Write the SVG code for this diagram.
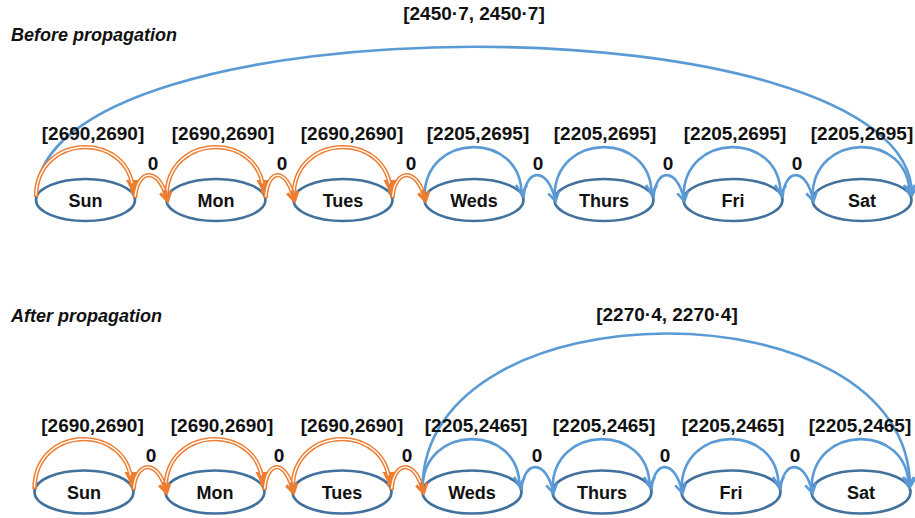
<svg xmlns="http://www.w3.org/2000/svg" width="915" height="518" viewBox="0 0 915 518">
<defs>
<style>
text{font-family:"Liberation Sans",Arial,sans-serif;font-weight:bold;fill:#111;}
.nd{fill:#fff;stroke:#41719C;stroke-width:2.6;}
.nt{font-size:18px;text-anchor:middle;}
.lb{font-size:19px;text-anchor:middle;}
.ttl{font-size:18px;font-style:italic;}
.b{fill:none;stroke:#5B9BD5;stroke-width:2.6;marker-end:url(#vb);}
.o{fill:none;stroke:#ED7D31;stroke-width:4.4;}
.oloop{marker-end:url(#to);}
.ocon{marker-end:url(#vo);}
.w1{fill:none;stroke:#fff;stroke-width:1.4;stroke-dasharray:0 1 92 20;}
.w2{fill:none;stroke:#fff;stroke-width:1.4;stroke-dasharray:0 2 80 30;}
</style>
<marker id="vb" markerUnits="userSpaceOnUse" markerWidth="16" markerHeight="16" viewBox="-13 -8 16 16" refX="0" refY="0" orient="auto" overflow="visible"><path d="M-9,-5.5 L0,0 L-9,5.5" fill="none" stroke="#5B9BD5" stroke-width="2.6"/></marker>
<marker id="vo" markerUnits="userSpaceOnUse" markerWidth="16" markerHeight="16" viewBox="-13 -8 16 16" refX="0" refY="0" orient="auto" overflow="visible"><path d="M-9,-5.5 L0,0 L-9,5.5" fill="none" stroke="#ED7D31" stroke-width="3"/></marker>
<marker id="to" markerUnits="userSpaceOnUse" markerWidth="18" markerHeight="18" viewBox="-15 -9 18 18" refX="0" refY="0" orient="auto" overflow="visible"><path d="M-14,-7 L0,0 L-14,7 Z" fill="#ED7D31"/></marker>
</defs>

<text class="ttl" x="11" y="41">Before propagation</text>
<text class="ttl" x="11" y="322">After propagation</text>

<g id="top-nodes">
<g id="t-sun"><ellipse class="nd" cx="85.5" cy="200" rx="49.5" ry="21"/><text class="nt" x="85.5" y="207">Sun</text></g>
<g id="t-mon"><ellipse class="nd" cx="216" cy="200" rx="49.5" ry="21"/><text class="nt" x="216" y="207">Mon</text></g>
<g id="t-tues"><ellipse class="nd" cx="343" cy="200" rx="49.5" ry="21"/><text class="nt" x="343" y="207">Tues</text></g>
<g id="t-weds"><ellipse class="nd" cx="474" cy="200" rx="49.5" ry="21"/><text class="nt" x="474" y="207">Weds</text></g>
<g id="t-thurs"><ellipse class="nd" cx="604" cy="200" rx="49.5" ry="21"/><text class="nt" x="604" y="207">Thurs</text></g>
<g id="t-fri"><ellipse class="nd" cx="733" cy="200" rx="49.5" ry="21"/><text class="nt" x="733" y="207">Fri</text></g>
<g id="t-sat"><ellipse class="nd" cx="862" cy="200" rx="49.5" ry="21"/><text class="nt" x="862" y="207">Sat</text></g>
</g>

<g id="bottom-nodes">
<g id="b-sun"><ellipse class="nd" cx="84" cy="492" rx="49.5" ry="21.5"/><text class="nt" x="84" y="499">Sun</text></g>
<g id="b-mon"><ellipse class="nd" cx="215" cy="492" rx="49.5" ry="21.5"/><text class="nt" x="215" y="499">Mon</text></g>
<g id="b-tues"><ellipse class="nd" cx="342" cy="492" rx="49.5" ry="21.5"/><text class="nt" x="342" y="499">Tues</text></g>
<g id="b-weds"><ellipse class="nd" cx="472" cy="492" rx="49.5" ry="21.5"/><text class="nt" x="472" y="499">Weds</text></g>
<g id="b-thurs"><ellipse class="nd" cx="602" cy="492" rx="49.5" ry="21.5"/><text class="nt" x="602" y="499">Thurs</text></g>
<g id="b-fri"><ellipse class="nd" cx="731" cy="492" rx="49.5" ry="21.5"/><text class="nt" x="731" y="499">Fri</text></g>
<g id="b-sat"><ellipse class="nd" cx="861" cy="492" rx="49.5" ry="21.5"/><text class="nt" x="861" y="499">Sat</text></g>
</g>

<g id="connectors">
<!-- top: big arc -->
<path class="b" d="M36,197 C36,-3 912,-3 912,195"/>
<!-- top orange self loops -->
<path class="o oloop" d="M36,197 C36,131 133,131 133,194"/>
<path class="w1" pathLength="100" d="M36,197 C36,131 133,131 133,194"/>
<path class="o oloop" d="M166.5,197 C166.5,131 263.5,131 263.5,194"/>
<path class="w1" pathLength="100" d="M166.5,197 C166.5,131 263.5,131 263.5,194"/>
<path class="o oloop" d="M293.5,197 C293.5,131 390.5,131 390.5,194"/>
<path class="w1" pathLength="100" d="M293.5,197 C293.5,131 390.5,131 390.5,194"/>
<!-- top blue self loops -->
<path class="b" d="M424.5,197 C424.5,131 521.5,131 521.5,194"/>
<path class="b" d="M554.5,197 C554.5,131 651.5,131 651.5,194"/>
<path class="b" d="M683.5,197 C683.5,131 780.5,131 780.5,194"/>
<path class="b" d="M812.5,197 C812.5,131 909.5,131 909.5,194"/>
<!-- top zero connectors -->
<path class="o ocon" d="M135,198 C137,168 160,166 167.5,201"/>
<path class="w2" pathLength="100" d="M135,198 C137,168 160,166 167.5,201"/>
<path class="o ocon" d="M265.5,198 C267.5,168 287,166 294.5,201"/>
<path class="w2" pathLength="100" d="M265.5,198 C267.5,168 287,166 294.5,201"/>
<path class="o ocon" d="M392.5,198 C394.5,168 418,166 425.5,201"/>
<path class="w2" pathLength="100" d="M392.5,198 C394.5,168 418,166 425.5,201"/>
<path class="b" d="M523.5,198 C525.5,168 548,166 555.5,201"/>
<path class="b" d="M653.5,198 C655.5,168 677,166 684.5,201"/>
<path class="b" d="M782.5,198 C784.5,168 806,166 813.5,201"/>

<!-- bottom: big arc -->
<path class="b" d="M422.5,489 C422.5,282 910,282 910,487"/>
<!-- bottom orange self loops -->
<path class="o oloop" d="M34.5,489 C34.5,423 131.5,423 131.5,486"/>
<path class="w1" pathLength="100" d="M34.5,489 C34.5,423 131.5,423 131.5,486"/>
<path class="o oloop" d="M165.5,489 C165.5,423 262.5,423 262.5,486"/>
<path class="w1" pathLength="100" d="M165.5,489 C165.5,423 262.5,423 262.5,486"/>
<path class="o oloop" d="M292.5,489 C292.5,423 389.5,423 389.5,486"/>
<path class="w1" pathLength="100" d="M292.5,489 C292.5,423 389.5,423 389.5,486"/>
<!-- bottom blue self loops -->
<path class="b" d="M422.5,489 C422.5,423 519.5,423 519.5,486"/>
<path class="b" d="M552.5,489 C552.5,423 649.5,423 649.5,486"/>
<path class="b" d="M681.5,489 C681.5,423 778.5,423 778.5,486"/>
<path class="b" d="M811.5,489 C811.5,423 908.5,423 908.5,486"/>
<!-- bottom zero connectors -->
<path class="o ocon" d="M133.5,490 C135.5,460 159,458 166.5,493"/>
<path class="w2" pathLength="100" d="M133.5,490 C135.5,460 159,458 166.5,493"/>
<path class="o ocon" d="M264.5,490 C266.5,460 286,458 293.5,493"/>
<path class="w2" pathLength="100" d="M264.5,490 C266.5,460 286,458 293.5,493"/>
<path class="o ocon" d="M391.5,490 C393.5,460 416,458 423.5,493"/>
<path class="w2" pathLength="100" d="M391.5,490 C393.5,460 416,458 423.5,493"/>
<path class="b" d="M521.5,490 C523.5,460 546,458 553.5,493"/>
<path class="b" d="M651.5,490 C653.5,460 675,458 682.5,493"/>
<path class="b" d="M780.5,490 C782.5,460 805,458 812.5,493"/>

<!-- labels -->
<text class="lb" x="474" y="20">[2450·7, 2450·7]</text>
<text class="lb" x="93" y="140">[2690,2690]</text>
<text class="lb" x="223" y="140">[2690,2690]</text>
<text class="lb" x="352" y="140">[2690,2690]</text>
<text class="lb" x="478" y="140">[2205,2695]</text>
<text class="lb" x="605" y="140">[2205,2695]</text>
<text class="lb" x="735" y="140">[2205,2695]</text>
<text class="lb" x="862" y="140">[2205,2695]</text>
<text class="lb" x="153" y="170">0</text>
<text class="lb" x="282" y="170">0</text>
<text class="lb" x="411" y="170">0</text>
<text class="lb" x="538" y="170">0</text>
<text class="lb" x="668" y="170">0</text>
<text class="lb" x="797" y="170">0</text>

<text class="lb" x="667" y="321">[2270·4, 2270·4]</text>
<text class="lb" x="92.5" y="432">[2690,2690]</text>
<text class="lb" x="222" y="432">[2690,2690]</text>
<text class="lb" x="352" y="432">[2690,2690]</text>
<text class="lb" x="476" y="432">[2205,2465]</text>
<text class="lb" x="604" y="432">[2205,2465]</text>
<text class="lb" x="733" y="432">[2205,2465]</text>
<text class="lb" x="860" y="432">[2205,2465]</text>
<text class="lb" x="151" y="462">0</text>
<text class="lb" x="279" y="462">0</text>
<text class="lb" x="407" y="462">0</text>
<text class="lb" x="537" y="462">0</text>
<text class="lb" x="665" y="462">0</text>
<text class="lb" x="795" y="462">0</text>
</g>
</svg>
